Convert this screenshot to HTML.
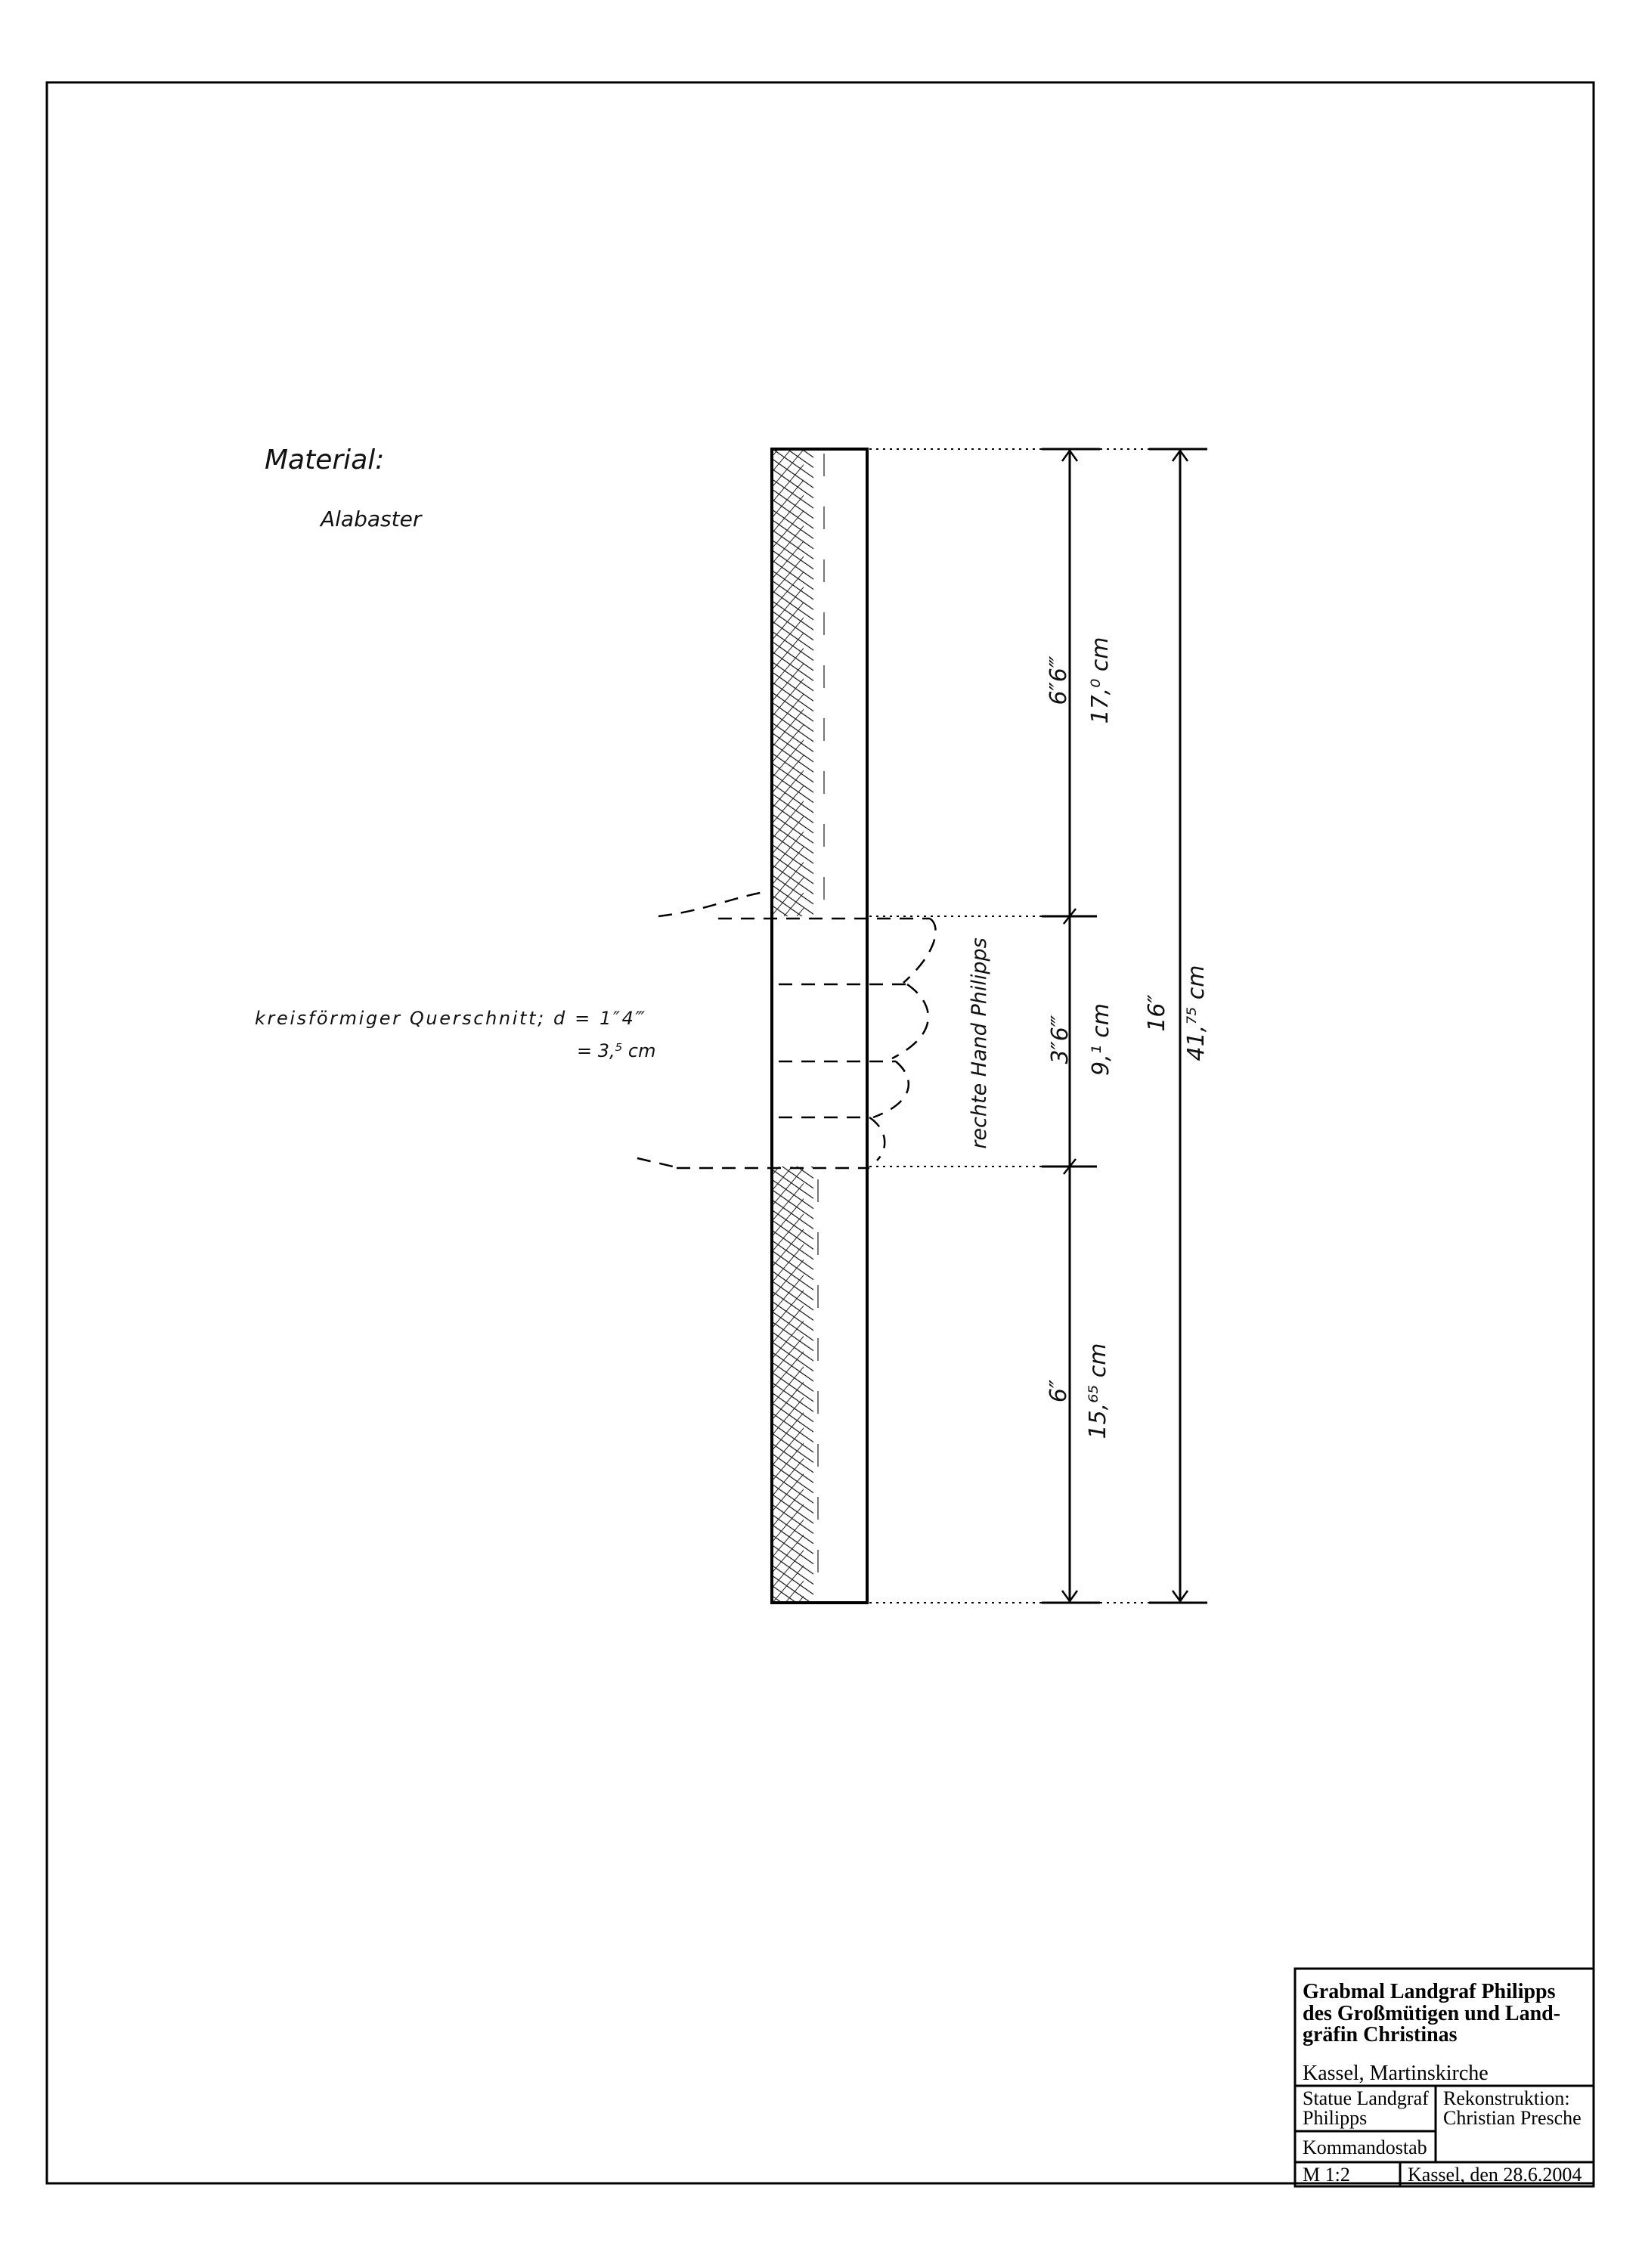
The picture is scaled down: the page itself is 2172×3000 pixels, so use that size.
<!DOCTYPE html>
<html><head><meta charset="utf-8"><style>
html,body{margin:0;padding:0;background:#fff;}
svg{display:block;}
.h{font-family:"DejaVu Sans","Liberation Sans",sans-serif;font-style:italic;fill:#111;}
.t{font-family:"Liberation Serif",serif;fill:#000;}
</style></head><body>
<svg width="2172" height="3000" viewBox="0 0 2172 3000" xmlns="http://www.w3.org/2000/svg">
<defs>
<pattern id="hx" width="11" height="11" patternUnits="userSpaceOnUse" patternTransform="rotate(-55)">
<line x1="0" y1="0" x2="0" y2="11" stroke="#111" stroke-width="2.4"/>
</pattern>
<pattern id="hx2" width="13" height="13" patternUnits="userSpaceOnUse" patternTransform="rotate(40)">
<line x1="0" y1="0" x2="0" y2="13" stroke="#222" stroke-width="2"/>
</pattern>
</defs>
<rect x="62" y="109" width="2046" height="2779" fill="none" stroke="#000" stroke-width="3"/>
<rect x="1021" y="594" width="55" height="618" fill="url(#hx)"/>
<rect x="1021" y="594" width="42" height="618" fill="url(#hx2)"/>
<rect x="1021" y="1543" width="55" height="577" fill="url(#hx)"/>
<rect x="1021" y="1543" width="42" height="577" fill="url(#hx2)"/>
<g stroke="#777" stroke-width="2" stroke-dasharray="30 40">
<line x1="1090" y1="600" x2="1090" y2="1200"/>
<line x1="1082" y1="1560" x2="1082" y2="2110"/>
</g>
<rect x="1021" y="594" width="126" height="1526" fill="none" stroke="#000" stroke-width="4"/>
<rect x="1023" y="1214" width="122" height="327" fill="#fff"/>
<g fill="none" stroke="#000" stroke-width="2.5" stroke-dasharray="18 12">
<path d="M871 1212 C930 1205 960 1190 1010 1180"/>
<line x1="950" y1="1215" x2="1230" y2="1215"/>
<path d="M1230 1215 C1245 1225 1240 1260 1195 1300"/>
<line x1="1030" y1="1302" x2="1200" y2="1302"/>
<path d="M1200 1302 C1240 1330 1240 1370 1180 1400"/>
<line x1="1030" y1="1404" x2="1185" y2="1404"/>
<path d="M1185 1404 C1215 1430 1205 1460 1155 1478"/>
<line x1="1030" y1="1478" x2="1150" y2="1478"/>
<path d="M1150 1478 C1175 1495 1175 1520 1160 1535"/>
<line x1="895" y1="1545" x2="1150" y2="1545"/>
<path d="M843 1532 L890 1543"/>
</g>
<g stroke="#000" stroke-width="2" stroke-dasharray="3 6">
<line x1="1150" y1="594" x2="1380" y2="594"/>
<line x1="1150" y1="1212" x2="1380" y2="1212"/>
<line x1="1150" y1="1543" x2="1380" y2="1543"/>
<line x1="1150" y1="2120" x2="1380" y2="2120"/>
<line x1="1455" y1="594" x2="1520" y2="594"/>
<line x1="1455" y1="2120" x2="1520" y2="2120"/>
</g>
<g stroke="#000" stroke-width="3">
<line x1="1378" y1="594" x2="1455" y2="594"/>
<line x1="1520" y1="594" x2="1597" y2="594"/>
<line x1="1378" y1="2120" x2="1455" y2="2120"/>
<line x1="1520" y1="2120" x2="1597" y2="2120"/>
<line x1="1378" y1="1212" x2="1451" y2="1212"/>
<line x1="1378" y1="1543" x2="1451" y2="1543"/>
<line x1="1415" y1="594" x2="1415" y2="2120"/>
<line x1="1561" y1="594" x2="1561" y2="2120"/>
</g>
<g fill="none" stroke="#000" stroke-width="2.5">
<path d="M1405 610 L1415 596 L1425 610"/><path d="M1405 2104 L1415 2118 L1425 2104"/>
<path d="M1407 1222 L1423 1202"/>
<path d="M1407 1553 L1423 1533"/>
<path d="M1551 610 L1561 596 L1571 610"/><path d="M1551 2104 L1561 2118 L1571 2104"/>
</g>
<g class="h" font-size="30">
<text transform="translate(1410,900) rotate(-90)" text-anchor="middle">6″6‴</text>
<text transform="translate(1465,900) rotate(-90)" text-anchor="middle">17,⁰ cm</text>
<text transform="translate(1412,1375) rotate(-90)" text-anchor="middle">3″6‴</text>
<text transform="translate(1466,1375) rotate(-90)" text-anchor="middle">9,¹ cm</text>
<text transform="translate(1540,1340) rotate(-90)" text-anchor="middle">16″</text>
<text transform="translate(1592,1340) rotate(-90)" text-anchor="middle">41,⁷⁵ cm</text>
<text transform="translate(1410,1840) rotate(-90)" text-anchor="middle">6″</text>
<text transform="translate(1462,1840) rotate(-90)" text-anchor="middle">15,⁶⁵ cm</text>
<text transform="translate(1304,1380) rotate(-90)" text-anchor="middle" font-size="27">rechte Hand Philipps</text>
</g>
<g class="h">
<text x="350" y="620" font-size="36">Material:</text>
<text x="424" y="696" font-size="28">Alabaster</text>
<text x="337" y="1355" font-size="24" textLength="516">kreisförmiger Querschnitt;  d =  1″4‴</text>
<text x="763" y="1398" font-size="24">=  3,⁵ cm</text>
</g>
<g stroke="#000" stroke-width="3" fill="none">
<rect x="1713" y="2604" width="395" height="288"/>
<line x1="1713" y1="2759" x2="2108" y2="2759"/>
<line x1="1713" y1="2819" x2="1899" y2="2819"/>
<line x1="1713" y1="2860" x2="2108" y2="2860"/>
<line x1="1899" y1="2759" x2="1899" y2="2860"/>
<line x1="1852" y1="2860" x2="1852" y2="2892"/>
</g>
<g class="t">
<text x="1723" y="2643" font-size="28" font-weight="bold">Grabmal Landgraf Philipps</text>
<text x="1723" y="2672" font-size="28" font-weight="bold">des Großmütigen und Land-</text>
<text x="1723" y="2700" font-size="28" font-weight="bold">gräfin Christinas</text>
<text x="1723" y="2751" font-size="28">Kassel, Martinskirche</text>
<text x="1723" y="2784" font-size="26">Statue Landgraf</text>
<text x="1723" y="2810" font-size="26">Philipps</text>
<text x="1723" y="2849" font-size="26">Kommandostab</text>
<text x="1909" y="2784" font-size="26">Rekonstruktion:</text>
<text x="1909" y="2810" font-size="26">Christian Presche</text>
<text x="1723" y="2885" font-size="26">M 1:2</text>
<text x="1862" y="2885" font-size="26">Kassel, den 28.6.2004</text>
</g>
</svg>
</body></html>
